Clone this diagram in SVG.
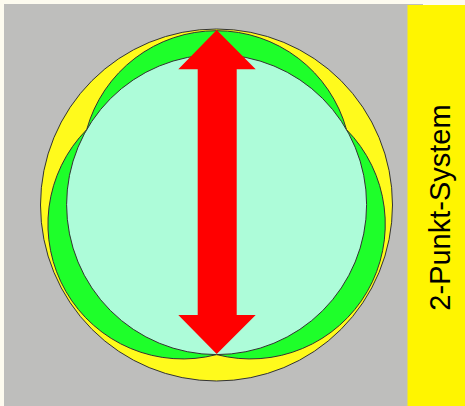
<svg xmlns="http://www.w3.org/2000/svg" width="465" height="406" viewBox="0 0 465 406">
<style>
.ol{stroke:#333;stroke-width:1}
.lbl{font-family:"Liberation Sans",Arial,sans-serif;font-size:29px;fill:#000}
</style>
<rect x="0" y="0" width="465" height="406" fill="#fdfbef"/>
<g id="background">
<rect x="4" y="4" width="419" height="402" fill="#bebebc"/>
</g>
<g id="label-bar">
<rect x="407.5" y="5" width="57.5" height="401" fill="#fff500"/>
<text class="lbl" transform="translate(450,207.5) rotate(-90)" text-anchor="middle">2-Punkt-System</text>
</g>
<g id="outer-form">
<circle class="ol" cx="216.5" cy="205" r="176" fill="#fffa1c"/>
</g>
<g id="lobed-form">
<path class="ol" fill="#1eff2a" d="M86.7,129.6 A134.76,134.76 0 0 1 346.5,129.6 A134.76,134.76 0 0 1 216.6,354.6 A134.76,134.76 0 0 1 86.7,129.6 Z"/>
</g>
<g id="inner-circle">
<circle class="ol" cx="216.6" cy="204.6" r="150" fill="#adfcd9"/>
</g>
<g id="connectors">
<polygon fill="#ff0000" points="216.7,30 255.7,69.3 236.7,69.3 236.7,315 255.7,315 216.7,354 178.3,315 197.7,315 197.7,69.3 178.3,69.3"/>
</g>
</svg>
